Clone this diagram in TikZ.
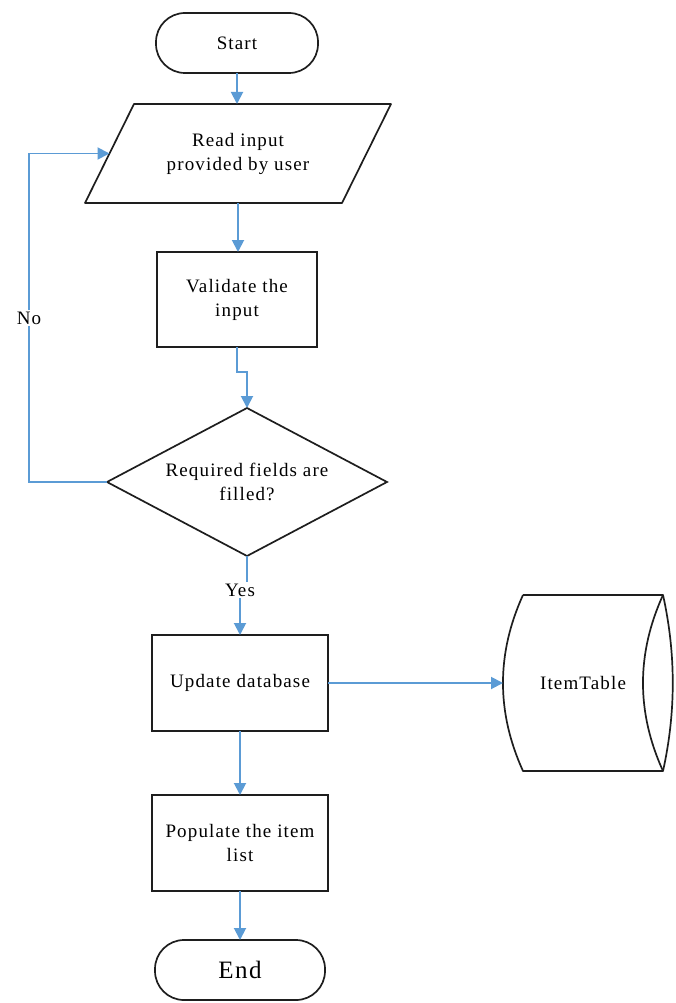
\documentclass[tikz,border=0pt]{standalone}
\usepackage{fontspec}
\setmainfont{Liberation Serif}
\newfontfamily\lblfont[LetterSpace=6]{Liberation Serif}
\usetikzlibrary{shapes.geometric,shapes.misc,arrows.meta,calc}
\definecolor{flowblue}{RGB}{91,155,213}
\definecolor{edgeblack}{RGB}{30,30,30}
\begin{document}
\begin{tikzpicture}[x=1pt,y=-1pt,
  every node/.style={font=\lblfont\fontsize{19}{24}\selectfont, align=center, inner sep=0pt, outer sep=0pt},
  shapeline/.style={draw=edgeblack, line width=1.7pt},
  terminal/.style={shapeline, rectangle, rounded corners=29pt, minimum width=170pt, minimum height=60pt},
  process/.style={shapeline, rectangle, minimum width=176pt, minimum height=96pt},
  decision/.style={shapeline, diamond, aspect=1.9, minimum width=280pt, minimum height=148pt},
  flow/.style={draw=flowblue, line width=1.9pt},
  flowarrow/.style={flow, -{Triangle[length=12pt,width=12pt]}},
  edgelabel/.style={fill=white, inner sep=2pt}
]
\useasboundingbox (0,0) rectangle (675,1003);

% main column
\node[terminal, minimum width=162pt, minimum height=60pt] (start) at (237,43) {Start};
\node[minimum width=306pt, minimum height=99pt] (read) at (238,153.5) {Read input\\provided by user};
\draw[shapeline, line join=round]
  ([xshift=49pt]read.north west) -- (read.north east)
  -- ([xshift=-49pt]read.south east) -- (read.south west) -- cycle;
\coordinate (readleft) at ([xshift=24.5pt]read.west);
\node[process, minimum width=160pt, minimum height=95pt] (validate) at (237,299.5) {Validate the\\input};
\node[decision] (check) at (247,482) {Required fields are\\filled?};
\node[edgelabel] (yes) at (240,590) {Yes};
\node[process] (update) at (240,683) {Update database};
\node[process] (populate) at (240,843) {Populate the item\\list};
\node[terminal] (end) at (240,970) {\fontsize{25}{30}\selectfont End};

% stored data
\node[minimum width=160pt, minimum height=176pt] (items) at (583,683) {ItemTable};
\draw[shapeline, line join=round]
  ([xshift=20pt]items.north west) -- (items.north east)
  .. controls +(-26.7,58.7) and +(-26.7,-58.7) .. (items.south east)
  -- ([xshift=20pt]items.south west)
  .. controls +(-26.7,-58.7) and +(-26.7,58.7) .. ([xshift=20pt]items.north west);
\draw[shapeline]
  (items.north east) .. controls +(13,58.7) and +(13,-58.7) .. (items.south east);

% connectors
\draw[flowarrow] (start.south) -- (start.south |- read.north);
\draw[flowarrow] (read.south) -- (read.south |- validate.north);
\draw[flowarrow] (validate.south) -- ++(0,25) -| (check.north);
\draw[flow] (check.south) -- (check.south |- yes.north);
\draw[flowarrow] (update.north |- yes.south) -- (update.north);
\draw[flowarrow] (update.east) -- (items.west);
\draw[flowarrow] (update.south) -- (populate.north);
\draw[flowarrow] (populate.south) -- (end.north);

% loop back when fields are missing
\coordinate (loopcorner) at (29,482);
\draw[flowarrow] (check.west) -- (loopcorner) |- (readleft);
\node[edgelabel] (no) at (29,318) {No};
\end{tikzpicture}
\end{document}
